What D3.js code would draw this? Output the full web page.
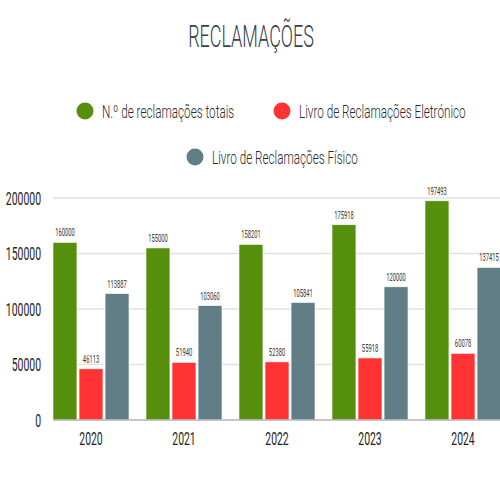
<!DOCTYPE html>
<html>
<head>
<meta charset="utf-8">
<script src="https://cdn.jsdelivr.net/npm/d3@7"></script>
<style>
html,body{margin:0;padding:0;background:#fff;overflow:hidden;}
svg{display:block;}
text{font-family:Roboto,"Liberation Sans",sans-serif;}
</style>
</head>
<body>
<svg id="chart" width="500" height="500"></svg>
<script>
const years = ["2020","2021","2022","2023","2024"];
const totais = [160000,155000,158201,175918,197493];
const eletronico = [46113,51940,52380,55918,60078];
const fisico = [113887,103060,105841,120000,137415];
const seriesNames = ["N.º de reclamações totais","Livro de Reclamações Eletrónico","Livro de Reclamações Físico"];
const seriesColors = ["#568f0b","#ff3333","#617e87"];
const yTicks = [0,50000,100000,150000,200000];

const svg = d3.select("#chart");

function ctext(g, x, y, str, size, color, anchor, sx, weight){
  const grp = g.append("g").attr("transform", `translate(${x},${y})`);
  grp.append("text").attr("transform", `scale(${sx},1)`)
    .attr("text-anchor", anchor||"middle")
    .attr("font-size", size).attr("fill", color)
    .attr("font-weight", weight||300)
    .text(str);
  return grp;
}

// Title
ctext(svg, 251, 47, "RECLAMAÇÕES", 31, "#3b404c", "middle", 0.58, 300);

// Legend
const legend = svg.append("g");
const legItems = [
  {x:85, y:111}, {x:282, y:111}, {x:195, y:157}
];
legItems.forEach((p,i)=>{
  legend.append("circle").attr("cx",p.x).attr("cy",p.y).attr("r",8.5).attr("fill",seriesColors[i]);
  ctext(legend, p.x+17, p.y+6.5, seriesNames[i], 18, "#2b2b2b", "start", 0.65, 300);
});

// Scales
const x0 = d3.scaleBand().domain(years).range([44.5,509.5]).paddingInner(0).paddingOuter(0);
const x1 = d3.scaleBand().domain([0,1,2]).range([8.5, 84.5]).paddingInner(0.08);
const y = d3.scaleLinear().domain([0,200000]).range([420,198]);

// Grid
svg.append("g").selectAll("line").data(yTicks.slice(1)).join("line")
  .attr("x1",53).attr("x2",500)
  .attr("y1",d=>y(d)).attr("y2",d=>y(d))
  .attr("stroke","#e2e2e2").attr("stroke-width",1.5);

// Y axis
const yAxis = svg.append("g").attr("transform","translate(41,0)")
  .call(d3.axisLeft(y).tickValues(yTicks).tickFormat(d3.format("d")).tickSize(0).tickPadding(0));
yAxis.select(".domain").remove();
yAxis.selectAll("text")
  .attr("x",0).attr("dy","0.36em")
  .attr("transform","scale(0.58,1)")
  .attr("font-size",18).attr("fill","#1e1e1e").attr("font-weight",400)
  .attr("font-family","Roboto,'Liberation Sans',sans-serif");

// Bars
const data = years.map((yr,i)=>({yr, vals:[totais[i],eletronico[i],fisico[i]]}));
const groups = svg.append("g").selectAll("g").data(data).join("g")
  .attr("transform",d=>`translate(${x0(d.yr)},0)`);
groups.selectAll("rect").data(d=>d.vals.map((v,k)=>({v,k}))).join("rect")
  .attr("x",d=>x1(d.k)).attr("width",x1.bandwidth())
  .attr("y",d=>y(d.v)).attr("height",d=>y(0)-y(d.v))
  .attr("fill",d=>seriesColors[d.k])
  .attr("stroke","#fff").attr("stroke-width",0.6);
groups.each(function(d){
  const g = d3.select(this);
  d.vals.forEach((v,k)=>{
    ctext(g, x1(k)+x1.bandwidth()/2, y(v)-6, String(v), 10, "#333", "middle", 0.58, 400);
  });
});

// Baseline
svg.append("line").attr("x1",53).attr("x2",500).attr("y1",y(0)).attr("y2",y(0))
  .attr("stroke","#b3b3b3").attr("stroke-width",1.5);

// X labels
years.forEach(yr=>{
  ctext(svg, x0(yr)+x0.bandwidth()/2, 445, yr, 18, "#1e1e1e", "middle", 0.58, 400);
});
</script>
</body>
</html>
